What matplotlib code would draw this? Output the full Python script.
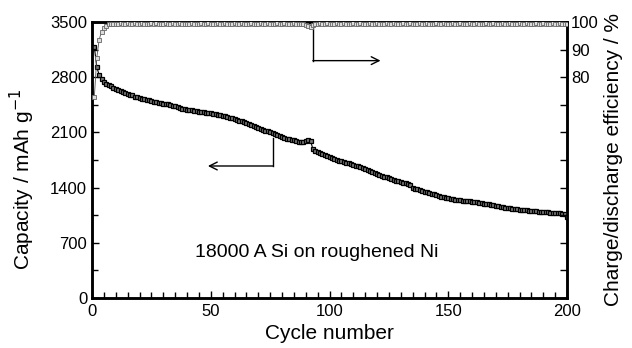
import matplotlib
matplotlib.use("Agg")
import matplotlib.pyplot as plt
import numpy as np

plt.rcParams['font.family'] = ['Liberation Sans', 'DejaVu Sans']

cycles = list(range(1, 201))

capacity = [
    3180, 2930, 2830, 2775, 2745, 2720, 2700, 2685, 2665, 2650,
    2638, 2625, 2612, 2600, 2590, 2580, 2568, 2555, 2545, 2535,
    2528, 2520, 2512, 2505, 2498, 2490, 2484, 2478, 2472, 2466,
    2460, 2454, 2446, 2438, 2430, 2420, 2408, 2400, 2395, 2390,
    2385, 2380, 2375, 2370, 2365, 2360, 2355, 2350, 2345, 2340,
    2335, 2330, 2325, 2318, 2310, 2302, 2295, 2288, 2280, 2270,
    2260, 2250, 2240, 2230, 2220, 2210, 2198, 2185, 2172, 2160,
    2148, 2136, 2124, 2112, 2100, 2090, 2078, 2066, 2054, 2042,
    2030, 2020, 2012, 2004, 1998, 1990, 1984, 1980, 1975, 1985,
    2003, 1995, 1890, 1868, 1850, 1835, 1821, 1808, 1795, 1783,
    1771, 1762, 1752, 1743, 1734, 1725, 1716, 1706, 1697, 1688,
    1679, 1672, 1665, 1650, 1635, 1620, 1607, 1595, 1583, 1572,
    1560, 1550, 1540, 1530, 1520, 1510, 1500, 1490, 1480, 1470,
    1460, 1452, 1444, 1433, 1395, 1385, 1376, 1367, 1358, 1349,
    1340, 1331, 1322, 1313, 1304, 1295, 1287, 1280, 1273, 1266,
    1258, 1253, 1248, 1244, 1240, 1236, 1232, 1229, 1226, 1222,
    1218, 1213, 1208, 1203, 1198, 1192, 1186, 1180, 1174, 1168,
    1162, 1157, 1152, 1147, 1142, 1137, 1133, 1129, 1125, 1121,
    1117, 1114, 1111, 1108, 1105, 1102, 1099, 1096, 1093, 1090,
    1088, 1086, 1084, 1082, 1080, 1077, 1074, 1070, 1066, 1030,
]

efficiency = [
    73.0, 87.0, 93.5, 96.5, 98.0, 98.7, 99.1, 99.3, 99.2, 99.4,
    99.3, 99.5, 99.4, 99.3, 99.5, 99.4, 99.4, 99.5, 99.3, 99.4,
    99.5, 99.4, 99.3, 99.4, 99.5, 99.4, 99.5, 99.4, 99.3, 99.4,
    99.5, 99.4, 99.4, 99.5, 99.3, 99.4, 99.5, 99.4, 99.4, 99.3,
    99.4, 99.5, 99.4, 99.3, 99.4, 99.5, 99.4, 99.4, 99.5, 99.4,
    99.3, 99.4, 99.5, 99.4, 99.4, 99.5, 99.4, 99.3, 99.4, 99.5,
    99.4, 99.4, 99.5, 99.3, 99.4, 99.4, 99.5, 99.4, 99.3, 99.4,
    99.5, 99.4, 99.4, 99.5, 99.4, 99.3, 99.4, 99.5, 99.4, 99.4,
    99.5, 99.4, 99.3, 99.4, 99.5, 99.4, 99.4, 99.3, 99.2, 99.0,
    98.6, 98.3, 98.9, 99.2, 99.4, 99.5, 99.4, 99.4, 99.5, 99.4,
    99.3, 99.4, 99.5, 99.4, 99.4, 99.5, 99.4, 99.3, 99.4, 99.5,
    99.4, 99.4, 99.5, 99.4, 99.3, 99.4, 99.5, 99.4, 99.4, 99.5,
    99.4, 99.3, 99.4, 99.5, 99.4, 99.4, 99.5, 99.4, 99.3, 99.4,
    99.5, 99.4, 99.4, 99.5, 99.4, 99.3, 99.4, 99.5, 99.4, 99.4,
    99.5, 99.4, 99.3, 99.4, 99.5, 99.4, 99.4, 99.5, 99.4, 99.3,
    99.4, 99.5, 99.4, 99.4, 99.5, 99.4, 99.3, 99.4, 99.5, 99.4,
    99.4, 99.5, 99.4, 99.3, 99.4, 99.5, 99.4, 99.4, 99.5, 99.4,
    99.3, 99.4, 99.5, 99.4, 99.4, 99.5, 99.4, 99.3, 99.4, 99.5,
    99.4, 99.4, 99.5, 99.4, 99.3, 99.4, 99.5, 99.4, 99.4, 99.5,
    99.4, 99.3, 99.4, 99.5, 99.4, 99.4, 99.5, 99.4, 99.3, 99.4,
]

cap_ticks = [0, 700, 1400, 2100, 2800, 3500]
eff_ticks = [80, 90, 100]
x_ticks = [0, 50, 100, 150, 200]

fig = plt.figure(figsize=(6.32, 3.48), dpi=100)
ax = fig.add_axes([92/632, 50/348, 475/632, 276/348])
ax2 = ax.twinx()

ax.plot(cycles, capacity, color='black', lw=0.8, marker='s', ms=3.4,
        mfc='#7a7a7a', mec='black', mew=0.9, zorder=3)
ax2.plot(cycles, efficiency, color='#555555', lw=0.6, marker='s', ms=2.8,
         mfc='#dddddd', mec='#666666', mew=0.6, zorder=3)

ax.set_xlim(0, 200)
ax.set_ylim(0, 3500)
ax2.set_ylim(0, 100)

ax.set_xticks(x_ticks)
ax.set_xticks(np.arange(0, 201, 5), minor=True)
ax.set_yticks(cap_ticks)
ax.set_yticks(np.arange(0, 3501, 350), minor=True)
ax2.set_yticks(np.arange(0, 101, 10))
ax2.set_yticklabels([str(v) if v in eff_ticks else '' for v in range(0, 101, 10)])

for a in (ax, ax2):
    a.tick_params(which='both', direction='in', labelsize=12, width=1.0)
    a.tick_params(which='major', length=5)
    a.tick_params(which='minor', length=4)
    for s in a.spines.values():
        s.set_linewidth(1.8)
ax.tick_params(top=False, right=False, which='both')
ax.tick_params(axis='x', pad=4)
ax2.tick_params(axis='y', pad=3)

ax.set_xlabel('Cycle number', fontsize=15, labelpad=4)
ax.set_ylabel('Capacity / mAh g$^{-1}$', fontsize=15)
ax.yaxis.set_label_coords(-0.115, 0.43)
ax2.set_ylabel('Charge/discharge efficiency / %', fontsize=15, labelpad=4)

ax.text(43.5, 580, '18000 A Si on roughened Ni', fontsize=14, va='center', ha='left')

# Arrow pointing to the capacity axis
ax.plot([76.2, 76.2], [2029, 1674], color='black', lw=1.0)
ax.annotate('', xy=(48.8, 1674), xytext=(76.2, 1674),
            arrowprops=dict(arrowstyle='->', color='black', lw=1.0,
                            mutation_scale=14, shrinkA=0, shrinkB=0))
# Arrow pointing to the efficiency axis
ax2.plot([93, 93], [98.3, 86], color='black', lw=1.0)
ax2.annotate('', xy=(121.5, 86), xytext=(93, 86),
             arrowprops=dict(arrowstyle='->', color='black', lw=1.0,
                             mutation_scale=14, shrinkA=0, shrinkB=0))

fig.savefig('out.png', dpi=100)
